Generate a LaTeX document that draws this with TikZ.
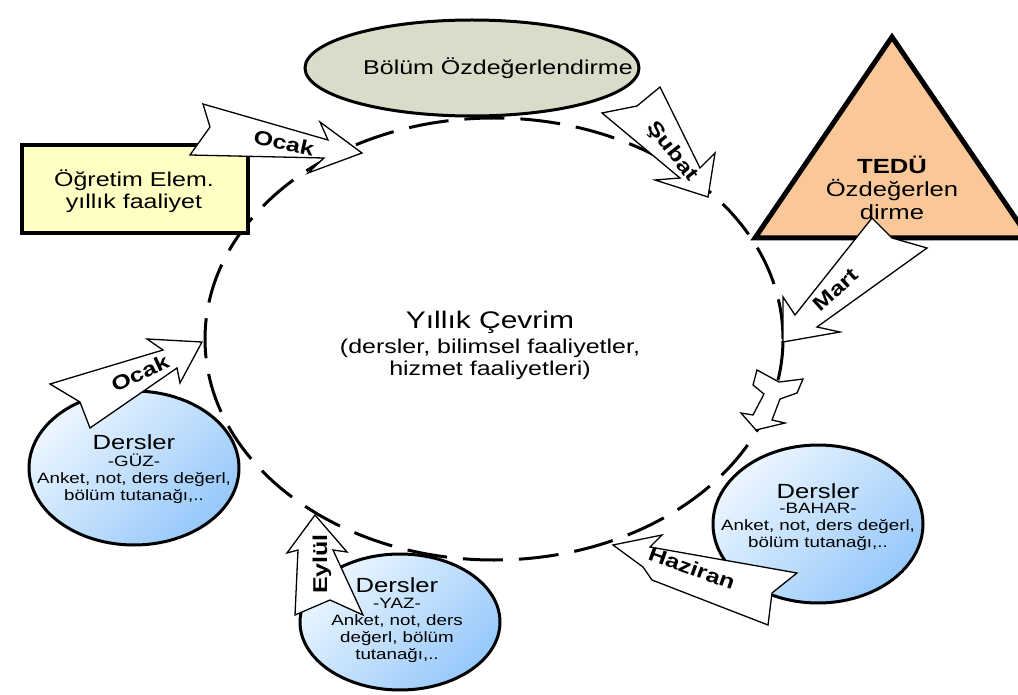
\documentclass[tikz,border=0pt]{standalone}
\usepackage{fontspec}
\setmainfont{Liberation Sans}[FakeStretch=1.25]
\usetikzlibrary{shapes.geometric}
\definecolor{bolumfill}{RGB}{215,221,200}
\definecolor{tedufill}{RGB}{250,200,152}
\definecolor{rectfill}{RGB}{255,255,196}
\definecolor{bluelight}{RGB}{236,246,255}
\definecolor{bluedark}{RGB}{150,200,250}
\begin{document}
\begin{tikzpicture}[x=1pt,y=-1pt,
  heavy/.style={draw=black,line width=3.5pt},
  blockarrow/.style={draw=black,fill=white,line width=1.3pt,line join=miter},
  lbl/.style={font=\bfseries\fontsize{20}{20}\selectfont,inner sep=0pt},
  dersler/.style={ellipse,heavy,line width=3pt,top color=bluelight,bottom color=bluedark,shading angle=45,inner sep=0pt},
  big/.style={font=\fontsize{20.5}{20.5}\selectfont,inner sep=0pt},
  small/.style={font=\fontsize{15}{17}\selectfont,align=center,inner sep=0pt}]
\useasboundingbox (0,0) rectangle (1018,695);
% main dashed cycle
\node[ellipse,draw,line width=3pt,dash pattern=on 40pt off 16pt,minimum width=578pt,minimum height=442pt,inner sep=0pt] (cyc) at (494,339) {};
\node[inner sep=0pt,font=\fontsize{24}{24}\selectfont] (cyct) at (490,322) {Yıllık Çevrim};
\node[inner sep=0pt,align=center,font=\fontsize{20}{22}\selectfont] (cycs) at (490,359) {(dersler, bilimsel faaliyetler,\\hizmet faaliyetleri)};
% Bolum
\node[ellipse,heavy,line width=3pt,fill=bolumfill,minimum width=334pt,minimum height=96pt,inner sep=0pt] (bolum) at (472,68) {};
\node[inner sep=0pt,font=\fontsize{20}{20}\selectfont] (bolumt) at (498,68) {Bölüm Özdeğerlendirme};
% TEDU triangle
\draw[heavy,line width=5pt,fill=tedufill,line join=miter] (892,37) -- (755,238) -- (1029,238) -- cycle;
\node[inner sep=0pt,align=center,font=\fontsize{20.5}{23}\selectfont] (tedu) at (892,188) {\textbf{TEDÜ}\\Özdeğerlen\\dirme};
% Ogretim rect
\node[heavy,line width=3.5pt,fill=rectfill,minimum width=226pt,minimum height=88pt,inner sep=0pt] (ogr) at (135,189) {};
\node[inner sep=0pt,align=center,font=\fontsize{20}{22}\selectfont] (ogrt) at (134,191) {Öğretim Elem.\\yıllık faaliyet};
% Dersler ellipses
\node[dersler,minimum width=210pt,minimum height=154pt] (guz) at (134,468) {};
\node[big] (guzd) at (134,442) {Dersler};
\node[small] (guzt) at (134,479) {-GÜZ-\\Anket, not, ders değerl,\\bölüm tutanağı,..};
\node[dersler,minimum width=210pt,minimum height=158pt] (bahar) at (818,524) {};
\node[big] (bahard) at (818,491) {Dersler};
\node[small] (bahart) at (818,527) {-BAHAR-\\Anket, not, ders değerl,\\bölüm tutanağı,..};
\node[dersler,minimum width=200pt,minimum height=136pt] (yaz) at (400,622) {};
\node[big] (yazd) at (397,585) {Dersler};
\node[small] (yazt) at (397,630) {-YAZ-\\Anket, not, ders\\değerl, bölüm\\tutanağı,..};
% block arrows
\draw[blockarrow] (203,104) -- (328,140) -- (320,122) -- (362,153) -- (308,173) -- (324,158) -- (190,155) -- (210,127) -- cycle;
\node[lbl,rotate=-12] (a1) at (284,143) {Ocak};
\draw[blockarrow] (660,87) -- (700,168) -- (715,153) -- (708,197) -- (655,180) -- (680,178) -- (602,113) -- (637,106) -- cycle;
\node[lbl,rotate=-52] (a2) at (672,152) {Şubat};
\draw[blockarrow] (872,218) -- (892,238) -- (927,248) -- (817,327) -- (840,332) -- (783,342) -- (783,297) -- (795,315) -- cycle;
\node[lbl,rotate=42] (a3) at (836,290) {Mart};
\draw[blockarrow] (757,370) -- (779,382) -- (803,379) -- (797,393) -- (780,399) -- (772,420) -- (785,423) -- (756,430) -- (741,413) -- (753,415) -- (764,394) -- (753,385) -- cycle;
\draw[blockarrow] (613,545) -- (662,535) -- (650,547) -- (797,573) -- (772,593) -- (768,625) -- (652,580) -- (643,567) -- cycle;
\node[lbl,rotate=-20] (a5) at (692,568) {Haziran};
\draw[blockarrow] (315,515) -- (347,552) -- (333,550) -- (363,615) -- (330,600) -- (295,615) -- (298,550) -- (287,553) -- cycle;
\node[lbl,rotate=90] (a6) at (322,564) {Eylül};
\draw[blockarrow] (50,384) -- (163,350) -- (147,339) -- (202,342) -- (180,383) -- (177,368) -- (90,428) -- (80,402) -- cycle;
\node[lbl,rotate=25] (a7) at (140,373) {Ocak};
\end{tikzpicture}
\end{document}
